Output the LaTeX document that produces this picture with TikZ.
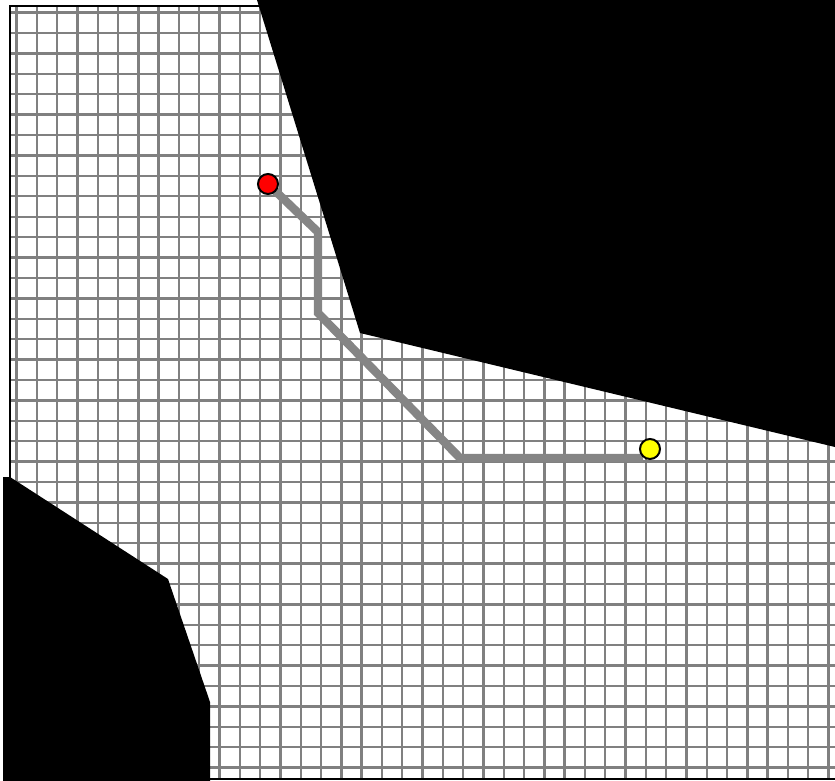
\documentclass[tikz,border=0pt]{standalone}
\usepackage{tikz}
\usepackage{xcolor}
\definecolor{cellline}{HTML}{808080}
\definecolor{routegray}{HTML}{858585}
\definecolor{startred}{HTML}{FF0000}
\definecolor{goalyellow}{HTML}{FFFF00}

\begin{document}
\begin{tikzpicture}[
        x=0.75pt, y=-0.75pt,
        gridline/.style={
            draw=cellline, 
            line width=1.8pt
        },
        obstacle/.style={
            fill=black, 
            draw=none
        },
        frameline/.style={
            draw=black, 
            line width=2pt
        },
        route/.style={
            draw=routegray, 
            line width=6.3pt
        },
        endpoint/.style={
            circle, 
            draw=black, 
            line width=1.5pt, 
            inner sep=0pt, 
            minimum size=15pt
        }
    ]

    \useasboundingbox (0,0) rectangle (835,781);

    % Occupancy grid
    \foreach \i in {0,...,40} {
        \draw[gridline] ({16.5+20.3*\i},6) -- ({16.5+20.3*\i},779);
    }
    \foreach \j in {0,...,37} {
        \draw[gridline] (10,{12.7+20.4*\j}) -- (835,{12.7+20.4*\j});
    }

    % Obstacles
    \fill[obstacle] (257,0) -- (360,333) -- (835,447) -- (835,0) -- cycle;
    \fill[obstacle] (3,477) -- (10,477) -- (168,579) -- (210,702) -- (210,782) -- (3,782) -- cycle;

    % Map border
    \draw[frameline] (835,6) -- (10,6) -- (10,779) -- (835,779);

    % Planned route
    \coordinate (s) at (268,184);
    \coordinate (w1) at (318,232);
    \coordinate (w2) at (318,313);
    \coordinate (w3) at (460,458);
    \coordinate (e) at (643,458);
    \draw[route] (s) -- (w1) -- (w2) -- (w3) -- (e);

    % Start and goal
    \node[endpoint, fill=startred] (start) at (s) {};
    \node[endpoint, fill=goalyellow] (goal) at (650,449) {};

\end{tikzpicture}
\end{document}
